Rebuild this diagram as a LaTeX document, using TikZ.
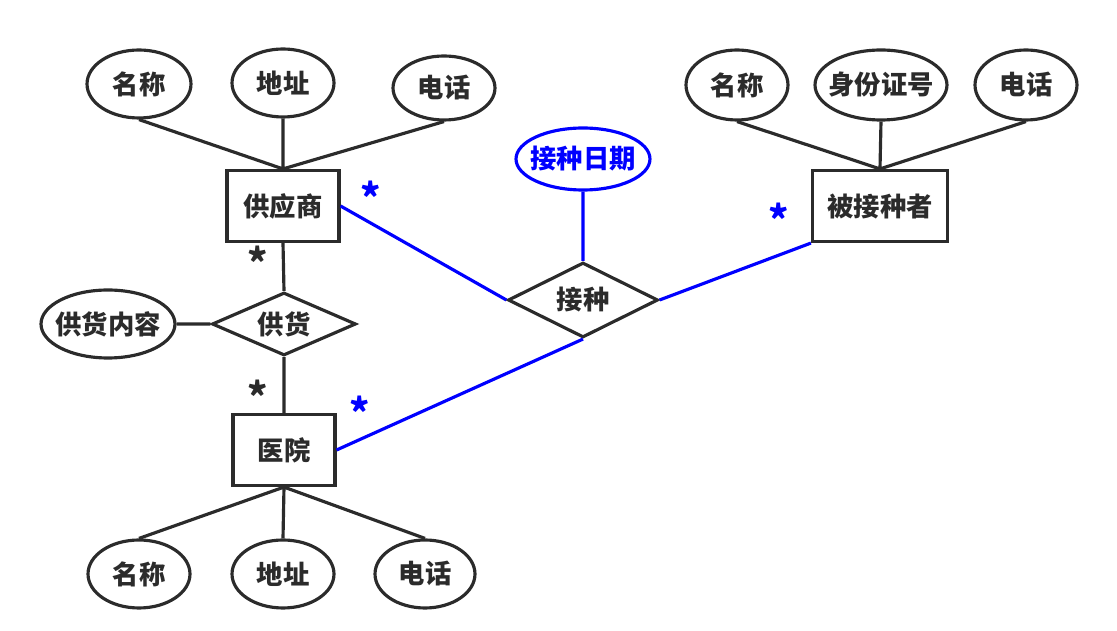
\documentclass[tikz,border=0pt]{standalone}
\usepackage{fontspec}
\setmainfont{Noto Sans CJK SC}
\usetikzlibrary{shapes.geometric}
\definecolor{ink}{HTML}{2B2B2B}
\definecolor{vblue}{RGB}{0,0,255}
\tikzset{a/.style={ellipse,draw,inner sep=-4pt,minimum width=2.04cm,minimum height=1.36cm}}
\tikzset{e/.style={rectangle,draw,inner sep=0pt,minimum height=1.42cm}}
\tikzset{r/.style={diamond,draw,inner sep=0pt,aspect=2}}
\tikzset{s/.style={font=\fontsize{22}{22}\selectfont\bfseries}}

\begin{document}
\begin{tikzpicture}[x=0.02cm,y=-0.02cm,color=ink,line width=1.8pt,
    font=\fontsize{15}{15}\selectfont\bfseries]
  \useasboundingbox (0,0) rectangle (1117,631);
  % entities and relationships
  \node[e,minimum width=2.24cm] (S) at (283,206) {供应商};
  \node[e,minimum width=2.04cm] (H) at (284,450) {医院};
  \node[e,minimum width=2.7cm] (R) at (880,206) {被接种者};
  \node[r,minimum width=2.88cm,minimum height=1.26cm] (G) at (284,324) {供货};
  \node[r,minimum width=3cm,minimum height=1.5cm] (V) at (583,300) {接种};
  % attributes
  \node[a,minimum width=2.08cm] (S1) at (139,84) {名称};
  \node[a] (S2) at (283,83) {地址};
  \node[a,minimum height=1.28cm] (S3) at (444,88) {电话};
  \node[a,minimum height=1.4cm] (R1) at (737,85) {名称};
  \node[a,minimum width=2.64cm,minimum height=1.4cm] (R2) at (881,85) {身份证号};
  \node[a,minimum height=1.4cm] (R3) at (1026,85) {电话};
  \node[a] (H1) at (139,574) {名称};
  \node[a] (H2) at (283,574) {地址};
  \node[a,minimum width=2cm] (H3) at (425,574) {电话};
  \node[a,minimum width=2.68cm] (G1) at (108,324) {供货内容};
  \node[a,vblue,minimum width=2.68cm,minimum height=1.24cm] (V1) at (583,159) {接种日期};
  % connectors
  \draw (S1.south) -- (S.north) (S2.south) -- (S.north) (S3.south) -- (S.north);
  \draw (R1.south) -- (R.north) (R2.south) -- (R.north) (R3.south) -- (R.north);
  \draw (H1.north) -- (H.south) (H2.north) -- (H.south) (H3.north) -- (H.south);
  \draw (S.south) -- (G.north) (G.south) -- (H.north) (G1.east) -- (G.west);
  \draw[vblue] (S.east) -- (V.west) (V.east) -- (R.south west)
    (H.east) -- (V.south) (V1.south) -- (V.north);
  % multiplicities
  \node[s] (m1) at (258,262) {*};
  \node[s] (m2) at (258,396) {*};
  \node[s,vblue] (m3) at (371,197) {*};
  \node[s,vblue] (m4) at (779,219) {*};
  \node[s,vblue] (m5) at (360,412) {*};
\end{tikzpicture}
\end{document}
